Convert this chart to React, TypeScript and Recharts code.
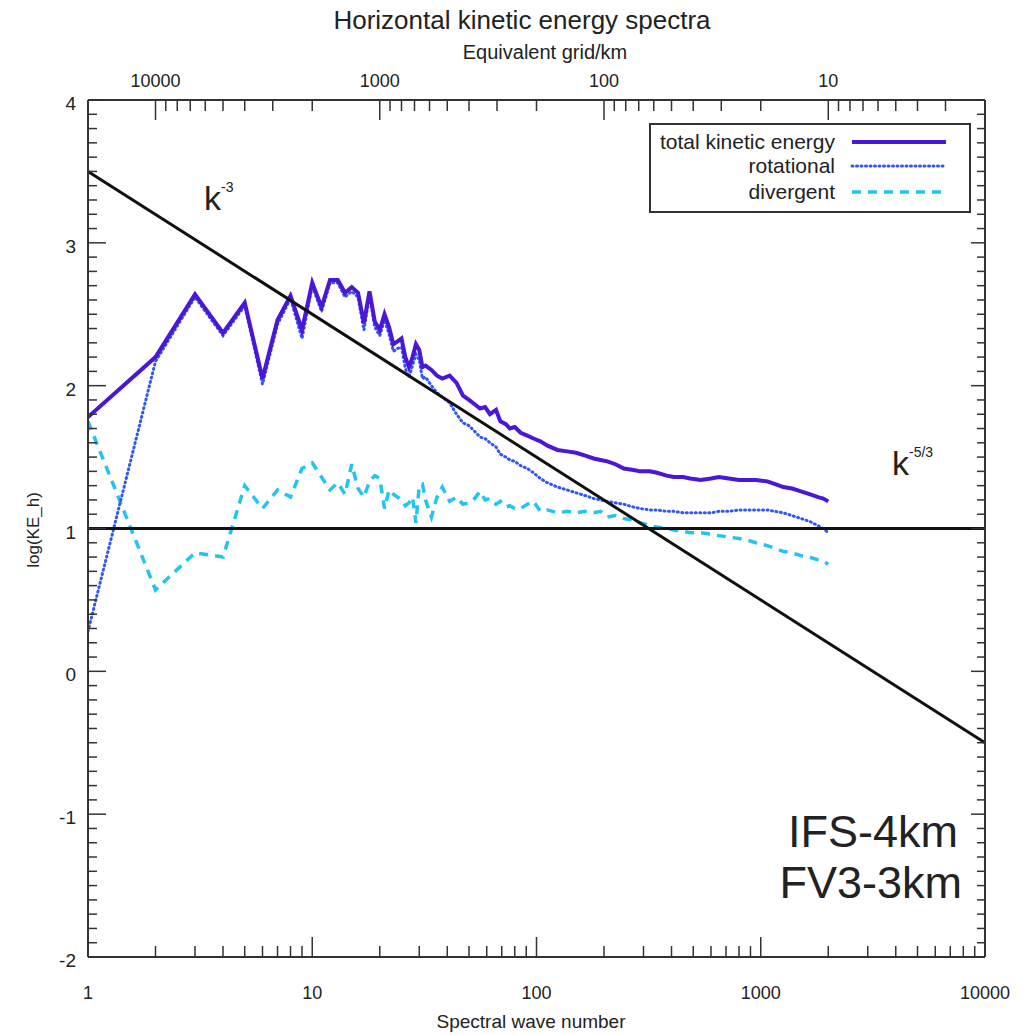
import React from 'react';
import { LineChart, Line, XAxis, YAxis, ReferenceLine } from 'recharts';

// spectral wave numbers shared by the three spectra
const waveNumbers = [
  1, 2, 3, 4, 5, 6, 7, 8, 9, 10,
  11, 12, 13, 14, 15, 16, 17, 18, 19, 20,
  21, 22, 23, 24, 25, 26, 27, 28, 29, 30, 31, 32,
  34, 36, 38, 41, 44,
  47, 50, 53, 56, 59,
  62, 66, 69, 73, 76,
  80, 85, 91, 97, 104,
  112, 124, 137, 150, 165,
  180, 193, 207, 225, 245,
  271, 290, 320, 345, 380,
  410, 450, 485, 540, 600,
  650, 720, 800, 870, 950,
  1070, 1160, 1260, 1380, 1510,
  1650, 1800, 1900, 2000,
];

const totalKE = [
  1.78, 2.20, 2.64, 2.37, 2.58, 2.05, 2.46, 2.63, 2.39, 2.72,
  2.55, 2.74, 2.74, 2.65, 2.69, 2.65, 2.44, 2.66, 2.45, 2.39,
  2.50, 2.41, 2.29, 2.31, 2.33, 2.20, 2.13, 2.20, 2.29, 2.25, 2.13, 2.14,
  2.11, 2.07, 2.05, 2.07, 2.02,
  1.93, 1.90, 1.87, 1.84, 1.85,
  1.80, 1.83, 1.75, 1.73, 1.70,
  1.71, 1.67, 1.65, 1.63, 1.61,
  1.58, 1.55, 1.54, 1.53, 1.51,
  1.49, 1.48, 1.47, 1.45, 1.42,
  1.41, 1.40, 1.40, 1.39, 1.37,
  1.36, 1.36, 1.35, 1.34, 1.35,
  1.36, 1.35, 1.34, 1.34, 1.34,
  1.33, 1.31, 1.29, 1.28, 1.26,
  1.24, 1.22, 1.21, 1.19,
];

const rotationalKE = [
  0.28, 2.17, 2.62, 2.35, 2.56, 2.01, 2.43, 2.61, 2.33, 2.70,
  2.52, 2.72, 2.72, 2.62, 2.66, 2.62, 2.39, 2.63, 2.41, 2.35,
  2.46, 2.36, 2.24, 2.26, 2.27, 2.12, 2.06, 2.14, 2.22, 2.18, 2.05, 2.06,
  2.00, 1.95, 1.92, 1.88, 1.80,
  1.74, 1.72, 1.68, 1.64, 1.63,
  1.60, 1.57, 1.52, 1.50, 1.48,
  1.47, 1.44, 1.42, 1.39, 1.35,
  1.32, 1.29, 1.27, 1.25, 1.23,
  1.21, 1.20, 1.19, 1.18, 1.17,
  1.15, 1.14, 1.13, 1.13, 1.12,
  1.12, 1.11, 1.11, 1.11, 1.11,
  1.12, 1.12, 1.13, 1.13, 1.13,
  1.13, 1.12, 1.11, 1.09, 1.07,
  1.05, 1.02, 1.00, 0.97,
];

const divergentKE = [
  1.75, 0.57, 0.83, 0.80, 1.30, 1.14, 1.27, 1.22, 1.42, 1.46,
  1.36, 1.27, 1.32, 1.24, 1.45, 1.28, 1.22, 1.33, 1.37, 1.35,
  1.14, 1.27, 1.24, 1.22, 1.20, 1.16, 1.18, 1.22, 1.04, 1.30, 1.31, 1.20,
  1.08, 1.22, 1.29, 1.19, 1.22,
  1.17, 1.18, 1.21, 1.26, 1.20,
  1.21, 1.17, 1.19, 1.15, 1.16,
  1.14, 1.14, 1.17, 1.19, 1.12,
  1.13, 1.11, 1.12, 1.11, 1.12,
  1.11, 1.12, 1.08, 1.09, 1.07,
  1.06, 1.04, 1.02, 1.01, 1.00,
  0.99, 0.98, 0.97, 0.97, 0.96,
  0.95, 0.94, 0.93, 0.92, 0.90,
  0.88, 0.86, 0.84, 0.83, 0.81,
  0.80, 0.78, 0.77, 0.75,
];

// reference slopes
const slopeK3 = [{ x: 1, y: 3.5 }, { x: 10000, y: -0.5 }];
const flatLevel = 1;

// axes
const xDomain = [1, 10000];
const yDomain = [-2, 4];
const decades = [1, 10, 100, 1000];
const gridDecades = [1, 10, 100, 1000, 10000];
const gridScale = 20000; // equivalent grid (km) = gridScale / wave number

const COLORS = { total: '#4a17d8', rot: '#2f58f2', div: '#22c4f2', axis: '#333' };
const FONT = "'Liberation Sans', Arial, sans-serif";

const legendItems = [
  { label: 'total kinetic energy', color: COLORS.total, dash: undefined, width: 4 },
  { label: 'rotational', color: COLORS.rot, dash: '1 3.5', width: 3 },
  { label: 'divergent', color: COLORS.div, dash: '9 7', width: 3.5 },
];

const toSeries = (vals: number[]) => waveNumbers.map((k, i) => ({ k, v: vals[i] }));
const isPow10 = (v: number) => Math.abs(Math.log10(v) - Math.round(Math.log10(v))) < 1e-6;

const bottomTicks = [...decades.flatMap(d => [1, 2, 3, 4, 5, 6, 7, 8, 9].map(m => m * d)), 10000];
const gridKm = gridDecades
  .flatMap(d => [1, 2, 3, 4, 5, 6, 7, 8, 9].map(m => m * d))
  .filter(g => g >= 2 && g <= gridScale)
  .concat([gridScale]);
const topTicks = gridKm.map(g => gridScale / g);
const yTicks = Array.from({ length: 61 }, (_, i) => Math.round((yDomain[0] + i / 10) * 10) / 10);

const BottomTick = ({ x, y, payload }: any) => {
  const major = isPow10(payload.value);
  return (
    <g>
      <line x1={x} x2={x} y1={y} y2={y - (major ? 20 : 11)} stroke={COLORS.axis} strokeWidth={1.5} />
      {major && (
        <text x={x} y={y + 42} textAnchor="middle" fontSize={18} fontFamily={FONT} fill="#222">
          {payload.value}
        </text>
      )}
    </g>
  );
};

const TopTick = ({ x, y, payload }: any) => {
  const g = Math.round(gridScale / payload.value);
  const major = isPow10(g);
  return (
    <g>
      <line x1={x} x2={x} y1={y} y2={y + (major ? 20 : 11)} stroke={COLORS.axis} strokeWidth={1.5} />
      {major && (
        <text x={x} y={y - 13} textAnchor="middle" fontSize={18} fontFamily={FONT} fill="#222">
          {g}
        </text>
      )}
    </g>
  );
};

const LeftTick = ({ x, y, payload }: any) => {
  const major = Math.abs(payload.value - Math.round(payload.value)) < 1e-6;
  return (
    <g>
      <line x1={x} x2={x + (major ? 18 : 9)} y1={y} y2={y} stroke={COLORS.axis} strokeWidth={1.5} />
      {major && (
        <text x={x - 12} y={y + 10} textAnchor="end" fontSize={19} fontFamily={FONT} fill="#222">
          {Math.round(payload.value)}
        </text>
      )}
    </g>
  );
};

const RightTick = ({ x, y, payload }: any) => {
  const major = Math.abs(payload.value - Math.round(payload.value)) < 1e-6;
  return <line x1={x} x2={x - (major ? 14 : 8)} y1={y} y2={y} stroke={COLORS.axis} strokeWidth={1.5} />;
};

const App: React.FC = () => {
  const totalData = toSeries(totalKE);
  const rotData = toSeries(rotationalKE);
  const divData = toSeries(divergentKE);

  return (
    <div style={{ position: 'absolute', left: 0, top: 0, width: 1028, height: 1035, background: '#fff' }}>
      <LineChart width={1028} height={1035} margin={{ top: 60, right: 23, bottom: 28, left: 28 }}>
        <XAxis xAxisId="b" dataKey="k" type="number" scale="log" domain={xDomain} allowDataOverflow
          ticks={bottomTicks} interval={0} tickSize={0} tickMargin={0} tickLine={false} height={50}
          axisLine={{ stroke: COLORS.axis, strokeWidth: 2 }} tick={<BottomTick />} />
        <XAxis xAxisId="t" orientation="top" dataKey="k" type="number" scale="log" domain={xDomain} allowDataOverflow
          ticks={topTicks} interval={0} tickSize={0} tickMargin={0} tickLine={false} height={40}
          axisLine={{ stroke: COLORS.axis, strokeWidth: 2 }} tick={<TopTick />} />
        <YAxis yAxisId="l" type="number" domain={yDomain} allowDataOverflow ticks={yTicks} interval={0}
          tickSize={0} tickMargin={0} tickLine={false} width={60}
          axisLine={{ stroke: COLORS.axis, strokeWidth: 2 }} tick={<LeftTick />} />
        <YAxis yAxisId="r" orientation="right" type="number" domain={yDomain} allowDataOverflow ticks={yTicks}
          interval={0} tickSize={0} tickMargin={0} tickLine={false} width={20}
          axisLine={{ stroke: COLORS.axis, strokeWidth: 2 }} tick={<RightTick />} />

        <Line xAxisId="b" yAxisId="l" data={divData} dataKey="v" type="linear" stroke={COLORS.div}
          strokeWidth={3.5} strokeDasharray="9 7" dot={false} isAnimationActive={false} />
        <Line xAxisId="b" yAxisId="l" data={rotData} dataKey="v" type="linear" stroke={COLORS.rot}
          strokeWidth={3} strokeDasharray="1 3.5" strokeLinecap="round" dot={false} isAnimationActive={false} />
        <Line xAxisId="b" yAxisId="l" data={totalData} dataKey="v" type="linear" stroke={COLORS.total}
          strokeWidth={4} dot={false} isAnimationActive={false} />

        <ReferenceLine xAxisId="b" yAxisId="l" segment={slopeK3} stroke="#111" strokeWidth={3} />
        <ReferenceLine xAxisId="b" yAxisId="l" y={flatLevel} stroke="#111" strokeWidth={3} />
      </LineChart>

      {/* titles, labels, legend and notes drawn over the chart */}
      <svg width={1028} height={1035} style={{ position: 'absolute', left: 0, top: 0, pointerEvents: 'none' }}
        fontFamily={FONT} fill="#222">
        <text x={522} y={29} textAnchor="middle" fontSize={26}>Horizontal kinetic energy spectra</text>
        <text x={545} y={59} textAnchor="middle" fontSize={20}>Equivalent grid/km</text>
        <text x={531} y={1028} textAnchor="middle" fontSize={19}>Spectral wave number</text>
        <text transform="translate(39,530) rotate(-90)" textAnchor="middle" fontSize={17}>log(KE_h)</text>

        <text x={204} y={210} fontSize={34}>k<tspan dy={-18} fontSize={14}>-3</tspan></text>
        <text x={892} y={475} fontSize={34}>k<tspan dy={-18} fontSize={14}>-5/3</tspan></text>
        <text x={958} y={847} textAnchor="end" fontSize={45}>IFS-4km</text>
        <text x={962} y={898} textAnchor="end" fontSize={45}>FV3-3km</text>

        <rect x={650} y={124} width={320} height={88} fill="#fff" stroke={COLORS.axis} strokeWidth={2} />
        {legendItems.map((item, i) => {
          const cy = [142, 166, 192][i];
          return (
            <g key={item.label}>
              <text x={835} y={cy + 7} textAnchor="end" fontSize={21}>{item.label}</text>
              <line x1={852} x2={946} y1={cy} y2={cy} stroke={item.color} strokeWidth={item.width}
                strokeDasharray={item.dash} strokeLinecap={item.dash === '1 3.5' ? 'round' : 'butt'} />
            </g>
          );
        })}
      </svg>
    </div>
  );
};

export default App;
